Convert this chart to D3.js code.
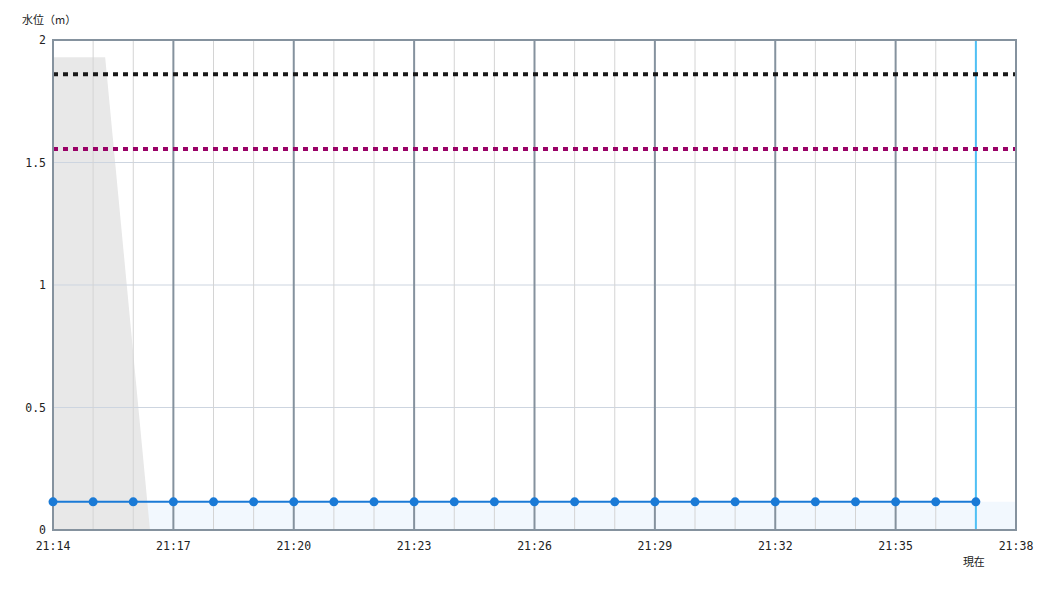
<!DOCTYPE html>
<html><head><meta charset="utf-8">
<script src="https://cdn.jsdelivr.net/npm/d3@7"></script>
<style>
html,body{margin:0;padding:0;background:#fff;}
svg text{font-family:"DejaVu Sans Mono",monospace;font-size:11.5px;fill:#222;}
svg text.cjk{font-family:"Noto Sans CJK JP",sans-serif;font-size:11px;}
</style></head>
<body>
<svg id="chart" width="1050" height="600"></svg>
<script>
// ---- data ----
const times = ["21:14","21:15","21:16","21:17","21:18","21:19","21:20","21:21","21:22","21:23","21:24","21:25","21:26","21:27","21:28","21:29","21:30","21:31","21:32","21:33","21:34","21:35","21:36","21:37"];
const levels = [0.115,0.115,0.115,0.115,0.115,0.115,0.115,0.115,0.115,0.115,0.115,0.115,0.115,0.115,0.115,0.115,0.115,0.115,0.115,0.115,0.115,0.115,0.115,0.115];
const grayTimes = ["21:14:00","21:15:18","21:16:25"];
const grayValues = [1.93,1.93,0];
const xTickLabels = ["21:14","21:17","21:20","21:23","21:26","21:29","21:32","21:35","21:38"];
const yTicks = [0,0.5,1,1.5,2];
const thresholdValues = [1.86,1.555];
const thresholdColors = ["#1a1a1a","#990066"];
const nowTime = "21:37";
const startTime = "21:14", endTime = "21:38";
const yLabel = "水位（m）";
const nowLabel = "現在";

// ---- helpers ----
const parse = s => { const p = s.split(":").map(Number); return new Date(2024,0,1,p[0],p[1],p[2]||0); };

const svg = d3.select("#chart");
const m = {left:53, right:1016, top:40, bottom:530};
const x = d3.scaleTime().domain([parse(startTime), parse(endTime)]).range([m.left, m.right]);
const y = d3.scaleLinear().domain([0,2]).range([m.bottom, m.top]);

// blue area under the level line (extends to end)
const blueData = times.map((t,i)=>({t:parse(t),v:levels[i]}));
blueData.push({t:parse(endTime), v:levels[levels.length-1]});
svg.append("path").datum(blueData)
  .attr("d", d3.area().x(d=>x(d.t)).y0(y(0)).y1(d=>y(d.v)))
  .attr("fill","#f2f8fe");

// gray area
const grayData = grayTimes.map((t,i)=>({t:parse(t),v:grayValues[i]}));
svg.append("path").datum(grayData)
  .attr("d", d3.area().x(d=>x(d.t)).y0(y(0)).y1(d=>y(d.v)))
  .attr("fill","#e8e8e8");

// horizontal grid
svg.append("g").selectAll("line").data(yTicks.filter(v=>v>0 && v<2)).join("line")
  .attr("x1",m.left).attr("x2",m.right)
  .attr("y1",d=>y(d)).attr("y2",d=>y(d))
  .attr("stroke","#cdd5e0").attr("stroke-width",1);

// vertical grid
const minuteTicks = x.ticks(d3.timeMinute.every(1));
svg.append("g").selectAll("line").data(minuteTicks).join("line")
  .attr("x1",d=>x(d)).attr("x2",d=>x(d))
  .attr("y1",m.top).attr("y2",m.bottom)
  .attr("stroke",(d)=>{ const k=(d.getMinutes()-14+60)%3; return k===0 ? "#85929e" : "#d4d4d4"; })
  .attr("stroke-width",(d)=>{ const k=(d.getMinutes()-14+60)%3; return k===0 ? 2 : 1; })
  .filter(d=>+d===+parse(startTime) || +d===+parse(endTime)).remove();

// now line
svg.append("line")
  .attr("x1",x(parse(nowTime))).attr("x2",x(parse(nowTime)))
  .attr("y1",m.top).attr("y2",m.bottom)
  .attr("stroke","#4fc0f5").attr("stroke-width",2);

// thresholds
svg.append("g").selectAll("line").data(thresholdValues).join("line")
  .attr("x1",m.left).attr("x2",m.right)
  .attr("y1",d=>y(d)).attr("y2",d=>y(d))
  .attr("stroke",(d,i)=>thresholdColors[i]).attr("stroke-width",4)
  .attr("stroke-dasharray","5,5");

// frame
svg.append("rect").attr("x",m.left).attr("y",m.top)
  .attr("width",m.right-m.left).attr("height",m.bottom-m.top)
  .attr("fill","none").attr("stroke","#85929e").attr("stroke-width",2);

// level line
svg.append("path").datum(times.map((t,i)=>({t:parse(t),v:levels[i]})))
  .attr("d", d3.line().x(d=>x(d.t)).y(d=>y(d.v)))
  .attr("fill","none").attr("stroke","#1a7ad6").attr("stroke-width",2);
svg.append("g").selectAll("circle").data(times.map((t,i)=>({t:parse(t),v:levels[i]}))).join("circle")
  .attr("cx",d=>x(d.t)).attr("cy",d=>y(d.v)).attr("r",4.5)
  .attr("fill","#1a7ad6");

// y labels
svg.append("g").selectAll("text").data(yTicks).join("text")
  .attr("x",m.left-7).attr("y",d=>y(d)).attr("dy","0.35em")
  .attr("text-anchor","end").text(d=>d3.format("~g")(d));
// x labels
svg.append("g").selectAll("text").data(xTickLabels).join("text")
  .attr("x",d=>x(parse(d))).attr("y",m.bottom+16).attr("dy","0.35em")
  .attr("text-anchor","middle").text(d=>d);

svg.append("text").attr("class","cjk").attr("x",22).attr("y",24).text(yLabel);
svg.append("text").attr("class","cjk").attr("x",x(parse(nowTime))-2).attr("y",566)
  .attr("text-anchor","middle").text(nowLabel);
</script>
</body></html>
